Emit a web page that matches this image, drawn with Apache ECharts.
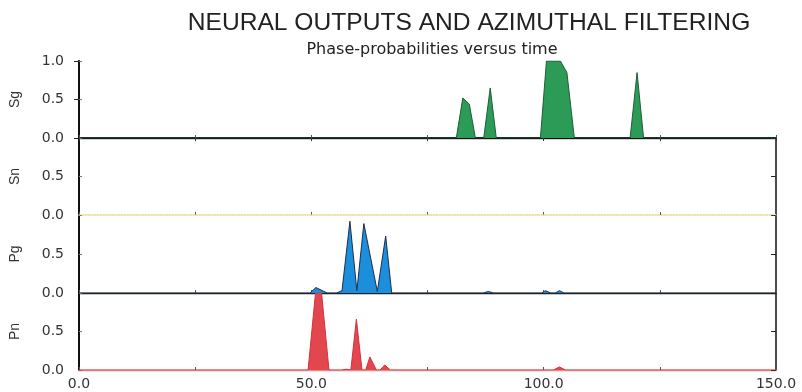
<!DOCTYPE html>
<html>
<head>
<meta charset="utf-8">
<script src="https://cdn.jsdelivr.net/npm/echarts@6/dist/echarts.min.js"></script>
<style>
  html, body { margin: 0; padding: 0; background: #fff; }
  #chart { width: 802px; height: 392px; }
</style>
</head>
<body>
<div id="chart"></div>
<script>
// phase names, top to bottom
const phases = ['Sg', 'Sn', 'Pg', 'Pn']
const xTicks = [0, 50, 100, 150]

// Sg output
const sgTime = [0, 81.2, 82.6, 84.0, 85.3, 87.1, 88.5, 89.8, 99.3, 100.6, 103.6, 105.0, 106.6, 118.6, 120.1, 121.5, 150]
const sgProb = [0, 0, 0.52, 0.44, 0, 0, 0.65, 0, 0, 1.0, 1.0, 0.85, 0, 0, 0.85, 0, 0]

// Sn output (nothing)
const snTime = [0, 150]
const snProb = [0, 0]

// Pg output
const pgTime = [0, 49.7, 51.0, 53.4, 55.4, 56.6, 58.3, 59.8, 61.3, 64.2, 66.0, 67.3, 87.0, 88.1, 89.2, 99.6, 100.4, 101.5, 102.5, 103.4, 104.4, 150]
const pgProb = [0, 0, 0.07, 0, 0, 0.03, 0.92, 0.03, 0.89, 0.02, 0.73, 0, 0, 0.02, 0, 0, 0.03, 0, 0, 0.03, 0, 0]

// Pn output
const pnTime = [0, 49.3, 50.9, 52.2, 53.8, 56.5, 57.5, 58.5, 59.7, 60.9, 61.7, 62.6, 64.0, 64.8, 65.8, 67.0, 102.1, 103.4, 104.7, 150]
const pnProb = [0, 0, 1.0, 1.0, 0, 0, 0.01, 0, 0.66, 0, 0, 0.17, 0, 0, 0.065, 0, 0, 0.04, 0, 0]

const pairs = (t, p) => t.map((v, i) => [v, p[i]])

const seriesData = [pairs(sgTime, sgProb), pairs(snTime, snProb), pairs(pgTime, pgProb), pairs(pnTime, pnProb)]
const fills = ['#2b9b57', '#ffffff', '#1c8fdc', '#e2464f']
const edges = ['#1d5e37', '#ecd9a0', '#1d2f4a', '#d8303a']
const baseColors = ['#444', '#ecd9a0', '#222', '#ec8a8a']

const numFont = 'DejaVu Sans'
const gridTops = [61, 138, 215, 293]
const gridHeights = [77, 77, 78, 77]

const chart = echarts.init(document.getElementById('chart'))

const grids = gridTops.map((top, i) => ({ left: 78, width: 698, top: top, height: gridHeights[i] }))

const xAxes = phases.map((p, i) => ({
    type: 'value',
    gridIndex: i,
    min: 0,
    max: 150,
    interval: 25,
    splitLine: { show: false },
    axisLine: {
        show: true,
        lineStyle: { color: baseColors[i], width: i === 1 ? 1.5 : 1.3, type: i === 1 ? 'dotted' : 'solid' }
    },
    axisTick: { show: true, inside: true, length: 3, lineStyle: { color: '#555' } },
    axisLabel: {
        show: i === 3,
        margin: 7,
        fontFamily: numFont,
        fontSize: 14,
        color: '#333',
        formatter: v => (xTicks.indexOf(v) >= 0 ? v.toFixed(1) : '')
    }
}))
// top border
xAxes.push({
    type: 'value',
    gridIndex: 0,
    position: 'top',
    min: 0,
    max: 150,
    interval: 25,
    splitLine: { show: false },
    axisLine: { show: true, lineStyle: { color: '#111', width: 2 } },
    axisTick: { show: true, inside: true, length: 3, lineStyle: { color: '#333' } },
    axisLabel: { show: false }
})

const yAxes = []
phases.forEach((p, i) => {
    yAxes.push({
        type: 'value',
        gridIndex: i,
        min: 0,
        max: 1,
        interval: 0.5,
        name: p,
        nameLocation: 'middle',
        nameGap: 57,
        nameTextStyle: { fontFamily: 'Liberation Sans', fontSize: 14, color: '#333' },
        splitLine: { show: false },
        axisLine: { show: true, lineStyle: { color: '#111', width: 2 } },
        axisTick: { show: true, inside: true, length: 3, lineStyle: { color: '#777' } },
        axisLabel: {
            margin: 15,
            fontFamily: numFont,
            fontSize: 14,
            color: '#333',
            showMaxLabel: i === 0,
            formatter: v => v.toFixed(1)
        }
    })
})
phases.forEach((p, i) => {
    yAxes.push({
        type: 'value',
        gridIndex: i,
        position: 'right',
        min: 0,
        max: 1,
        interval: 0.5,
        splitLine: { show: false },
        axisLine: { show: true, lineStyle: { color: '#111', width: 1.5 } },
        axisTick: { show: true, inside: true, length: 5, lineStyle: { color: '#222' } },
        axisLabel: { show: false }
    })
})

const series = phases.map((p, i) => ({
    name: p,
    type: 'line',
    xAxisIndex: i,
    yAxisIndex: i,
    data: seriesData[i],
    symbol: 'none',
    z: 1,
    lineStyle: { color: edges[i], width: 1, type: i === 1 ? 'dotted' : 'solid' },
    areaStyle: i === 1 ? undefined : { color: fills[i], opacity: 1 },
    animation: false
}))

chart.setOption({
    backgroundColor: '#fff',
    animation: false,
    title: [
        {
            text: 'NEURAL OUTPUTS AND AZIMUTHAL FILTERING',
            left: 464,
            textAlign: 'center',
            top: 6,
            textStyle: { fontFamily: 'Liberation Sans', fontSize: 24.6, fontWeight: 'normal', color: '#222' }
        },
        {
            text: 'Phase-probabilities versus time',
            left: 427,
            textAlign: 'center',
            top: 37,
            textStyle: { fontFamily: numFont, fontSize: 16, fontWeight: 'normal', color: '#222' }
        }
    ],
    grid: grids,
    xAxis: xAxes,
    yAxis: yAxes,
    series: series
})
</script>
</body>
</html>
